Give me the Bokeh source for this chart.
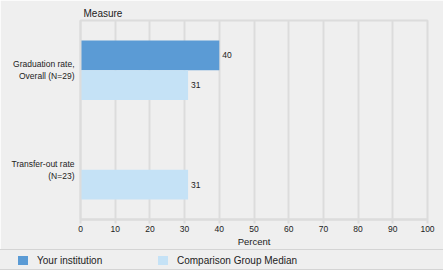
from bokeh.plotting import figure
from bokeh.models import FactorRange, Range1d, ColumnDataSource, FixedTicker, Div
from bokeh.layouts import column
from bokeh.transform import dodge
from bokeh.core.properties import value
from bokeh.embed import file_html
from bokeh.resources import INLINE

# ---- data ----
measures = ["Graduation rate,\nOverall (N=29)", "Transfer-out rate\n(N=23)"]
inst_measures = ["Graduation rate,\nOverall (N=29)"]
inst_values = [40]
comp_measures = ["Graduation rate,\nOverall (N=29)", "Transfer-out rate\n(N=23)"]
comp_values = [31, 31]
x_ticks = [0, 10, 20, 30, 40, 50, 60, 70, 80, 90, 100]
series_names = ["Your institution", "Comparison Group Median"]

DARK = "#5b9bd5"
LIGHT = "#c5e2f6"
BG = "#efefef"
GRID = "#dcdcdc"
TXT = "#222222"
FONT = "Liberation Sans"

inst_src = ColumnDataSource(dict(measure=inst_measures, val=inst_values,
                                 lab=[str(v) for v in inst_values]))
comp_src = ColumnDataSource(dict(measure=comp_measures, val=comp_values,
                                 lab=[str(v) for v in comp_values]))

p = figure(width=443, height=249,
           y_range=FactorRange(factors=measures[::-1], range_padding=0, factor_padding=0),
           x_range=Range1d(0, 100),
           output_backend="svg", toolbar_location=None,
           min_border_left=80, min_border_right=16, min_border_top=20, min_border_bottom=28)
p.background_fill_color = BG
p.border_fill_color = BG
p.outline_line_color = GRID
p.outline_line_width = 2

p.hbar(y=dodge("measure", 0.15, range=p.y_range), right="val", left=0, height=0.3,
       source=inst_src, fill_color=DARK, line_color=None)
p.hbar(y=dodge("measure", -0.15, range=p.y_range), right="val", left=0, height=0.3,
       source=comp_src, fill_color=LIGHT, line_color=None)

p.text(x="val", y=dodge("measure", 0.15, range=p.y_range), text="lab", source=inst_src,
       x_offset=3, text_baseline="middle", text_font=value(FONT), text_font_size="8.5px",
       text_color=TXT)
p.text(x="val", y=dodge("measure", -0.15, range=p.y_range), text="lab", source=comp_src,
       x_offset=3, text_baseline="middle", text_font=value(FONT), text_font_size="8.5px",
       text_color=TXT)

# title "Measure"
p.title.text = "Measure"
p.title.align = "left"
p.title.offset = 3
p.title.standoff = 3
p.title.text_font = FONT
p.title.text_font_size = "10px"
p.title.text_font_style = "normal"
p.title.text_color = TXT

# grid
p.ygrid.grid_line_color = None
p.xgrid.ticker = FixedTicker(ticks=x_ticks)
p.xgrid.grid_line_color = GRID
p.xgrid.grid_line_width = 2

# x axis
p.xaxis.ticker = FixedTicker(ticks=x_ticks)
p.xaxis.axis_label = "Percent"
p.xaxis.axis_label_text_font = FONT
p.xaxis.axis_label_text_font_style = "normal"
p.xaxis.axis_label_text_font_size = "9.5px"
p.xaxis.axis_label_text_color = TXT
p.xaxis.axis_label_standoff = 1
p.xaxis.major_label_text_font = FONT
p.xaxis.major_label_text_font_size = "8.5px"
p.xaxis.major_label_text_color = TXT
p.xaxis.major_label_standoff = 2
p.xaxis.axis_line_color = GRID
p.xaxis.axis_line_width = 2
p.xaxis.major_tick_line_color = GRID
p.xaxis.major_tick_line_width = 2
p.xaxis.major_tick_in = 0
p.xaxis.major_tick_out = 4
p.xaxis.minor_tick_line_color = None

# y axis
p.yaxis.major_label_text_font = FONT
p.yaxis.major_label_text_font_size = "8.5px"
p.yaxis.major_label_text_color = TXT
p.yaxis.major_label_standoff = 6
p.yaxis.major_tick_out = 0
p.yaxis.major_tick_in = 0
p.yaxis.axis_line_color = GRID
p.yaxis.axis_line_width = 2
p.yaxis.major_tick_line_color = None
p.yaxis.minor_tick_line_color = None

# legend strip
def swatch(left, color, label):
    return (f'<span style="position:absolute;left:{left}px;top:6px;width:10px;height:9px;'
            f'background:{color};"></span>'
            f'<span style="position:absolute;left:{left + 19}px;top:5px;white-space:nowrap;">'
            f'{label}</span>')

legend_html = (f'<div style="position:relative;width:443px;height:19px;'
               f'font-family:\'{FONT}\';font-size:10px;line-height:11px;color:{TXT};">'
               + swatch(18, DARK, series_names[0])
               + swatch(158, LIGHT, series_names[1])
               + '</div>')

leg = Div(text=legend_html, width=443, height=21, margin=0,
          styles={"background-color": BG, "border-top": "1px solid #d4d4d4",
                  "border-bottom": "1px solid #d4d4d4", "box-sizing": "border-box",
                  "padding": "0px"})

layout = column(p, leg, spacing=0)
open("out.html", "w").write(file_html(layout, INLINE))
